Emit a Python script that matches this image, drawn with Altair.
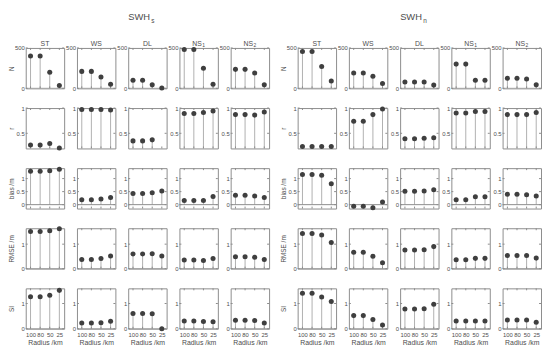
import altair as alt
import pandas as pd

radius = ["100", "80", "50", "25"]
methods = ["ST", "WS", "DL", "NS1", "NS2"]

# values per method, order: ST, WS, DL, NS1, NS2 ; radius order 100, 80, 50, 25
N_s = [[400, 400, 200, 35], [210, 210, 140, 50], [100, 100, 45, 5],
       [480, 480, 250, 50], [235, 235, 190, 45]]
N_n = [[455, 455, 270, 90], [190, 190, 150, 60], [80, 80, 80, 40],
       [300, 300, 100, 100], [125, 125, 115, 45]]

r_s = [[0.27, 0.27, 0.30, 0.21], [0.97, 0.97, 0.97, 0.96], [0.35, 0.35, 0.37, None],
       [0.89, 0.89, 0.91, 0.94], [0.87, 0.87, 0.86, 0.92]]
r_n = [[0.24, 0.24, 0.24, 0.24], [0.74, 0.74, 0.87, 0.98], [0.39, 0.39, 0.40, 0.41],
       [0.90, 0.90, 0.93, 0.93], [0.87, 0.87, 0.87, 0.91]]

bias_s = [[1.28, 1.28, 1.30, 1.36], [0.19, 0.19, 0.22, 0.27], [0.43, 0.43, 0.46, 0.52],
          [0.16, 0.16, 0.16, 0.31], [0.36, 0.36, 0.33, 0.27]]
bias_n = [[1.16, 1.16, 1.13, 0.80], [-0.06, -0.06, -0.12, 0.10], [0.51, 0.51, 0.52, 0.57],
          [0.19, 0.19, 0.30, 0.30], [0.40, 0.40, 0.38, 0.33]]

rmse_s = [[1.52, 1.52, 1.55, 1.63], [0.37, 0.37, 0.41, 0.52], [0.60, 0.60, 0.61, 0.52],
          [0.35, 0.35, 0.33, 0.41], [0.49, 0.49, 0.47, 0.37]]
rmse_n = [[1.44, 1.44, 1.37, 1.07], [0.67, 0.67, 0.51, 0.24], [0.76, 0.76, 0.77, 0.90],
          [0.36, 0.36, 0.42, 0.42], [0.54, 0.54, 0.54, 0.43]]

si_s = [[1.27, 1.27, 1.33, 1.52], [0.23, 0.23, 0.24, 0.30], [0.60, 0.60, 0.59, 0.0],
        [0.31, 0.31, 0.29, 0.28], [0.34, 0.34, 0.33, 0.23]]
si_n = [[1.41, 1.41, 1.26, 1.08], [0.52, 0.52, 0.37, 0.15], [0.78, 0.78, 0.79, 0.97],
        [0.31, 0.31, 0.31, 0.31], [0.35, 0.35, 0.35, 0.26]]

metrics = ["N", "r", "bias", "RMSE", "SI"]
metric_titles = ["N", "r", "bias /m", "RMSE /m", "SI"]
metric_ticks = [[0, 500], [0.5, 1], [0, 0.5, 1], [0, 1], [0, 1]]
metric_domains = [[0, 500], [0.2, 1], [-0.15, 1.4], [0, 1.65], [0, 1.6]]
title_x = [-14, -14, -14, -14, -14]
group_data = {"s": [N_s, r_s, bias_s, rmse_s, si_s], "n": [N_n, r_n, bias_n, rmse_n, si_n]}
groups = ["s", "n"]

W, H = 39, 41
FONT = "Liberation Sans"
TXT = "#4d4d4d"
BOX = "#8c8c8c"
STEM = "#b0b0b0"
PT = "#3f3f3f"

CW = {"N": .722, "S": .667, "T": .611, "W": .944, "D": .722, "L": .556, "H": .722,
      "1": .556, "2": .556, "s": .5, "n": .556}


def tw(s, size):
    return sum(CW.get(c, 0.6) for c in s) * size


def text_layer(txt, x, y, size, align="left"):
    return alt.Chart(pd.DataFrame({"t": [txt]})).mark_text(
        text=txt, align=align, baseline="alphabetic", fontSize=size, color=TXT, font=FONT
    ).encode(x=alt.value(x), y=alt.value(y))


def header_layers(name):
    main, sub = (name[:-1], name[-1]) if name[-1].isdigit() else (name, "")
    fs, ss = 7, 5
    if not sub:
        return [text_layer(main, W / 2, -2, fs, "center")]
    total = tw(main, fs) + 0.4 + tw(sub, ss)
    x0 = W / 2 - total / 2
    return [text_layer(main, x0, -2, fs), text_layer(sub, x0 + tw(main, fs) + 0.4, -0.9, ss)]


def panel(ri, gi, ci):
    g = groups[gi]
    vals = group_data[g][ri][ci]
    df = pd.DataFrame({"radius": radius, "value": vals}).dropna()
    last_row = ri == len(metrics) - 1
    if last_row:
        xaxis = alt.Axis(labelFontSize=6, labelColor=TXT, labelFont=FONT, labelPadding=2.5,
                         ticks=False, domain=False, grid=False, labelAngle=0, labelOverlap=False,
                         title="Radius /km", titleFontSize=7, titleFontWeight="normal",
                         titleColor=TXT, titleFont=FONT, titleY=14, titleBaseline="middle")
    else:
        xaxis = None
    x_enc = alt.X("radius:O", sort=radius, scale=alt.Scale(type="point", padding=0.5), axis=xaxis)
    yargs = dict(values=metric_ticks[ri], labelExpr="datum.value", ticks=False, domain=False,
                 grid=False, labelFontSize=6, labelPadding=1.5, labelColor=TXT, labelFont=FONT,
                 labelFlush=False, labelOverlap=False)
    if ci == 0:
        yargs.update(title=metric_titles[ri], titleX=title_x[ri], titleY=H / 2,
                     titleBaseline="middle", titleFontSize=6.5, titleFontWeight="normal",
                     titleColor=TXT, titleFont=FONT)
    else:
        yargs.update(title=None)
    y_enc = alt.Y("value:Q", scale=alt.Scale(domain=metric_domains[ri], nice=False, zero=False),
                  axis=alt.Axis(**yargs))

    base = alt.Chart(df)
    stems = base.mark_rule(color=STEM, strokeWidth=1, clip=True).encode(
        x=x_enc, y=y_enc, y2=alt.datum(0))
    baseline = alt.Chart(pd.DataFrame({"value": [0]})).mark_rule(
        color=BOX, strokeWidth=1, clip=True).encode(y=y_enc, x=alt.value(0), x2=alt.value(W))
    tick_df = pd.DataFrame({"value": metric_ticks[ri]})
    ytl = alt.Chart(tick_df).mark_rule(color=BOX, strokeWidth=1).encode(
        y=y_enc, x=alt.value(0), x2=alt.value(2))
    ytr = alt.Chart(tick_df).mark_rule(color=BOX, strokeWidth=1).encode(
        y=y_enc, x=alt.value(W - 2), x2=alt.value(W))
    rad_df = pd.DataFrame({"radius": radius})
    xtt = alt.Chart(rad_df).mark_rule(color=BOX, strokeWidth=1).encode(
        x=x_enc, y=alt.value(0), y2=alt.value(2))
    xtb = alt.Chart(rad_df).mark_rule(color=BOX, strokeWidth=1).encode(
        x=x_enc, y=alt.value(H - 2), y2=alt.value(H))
    pts = base.mark_circle(size=26, color=PT, opacity=1).encode(x=x_enc, y=y_enc)

    layers = [stems, baseline, ytl, ytr, xtt, xtb, pts]
    if ri == 0:
        layers += header_layers(methods[ci])
        if ci == 2:
            layers += [text_layer("SWH", 0, -28.6, 9.5), text_layer(g, tw("SWH", 9.5) + 1.2, -25.8, 6.5)]
    return alt.layer(*layers).properties(width=W, height=H)


def spacer():
    return alt.Chart(pd.DataFrame({"a": [0]})).mark_point(opacity=0).encode(
        x=alt.value(0), y=alt.value(0)).properties(
        width=3, height=H, view=alt.ViewBackground(stroke="transparent"))


cells = []
for ri in range(len(metrics)):
    for gi in range(2):
        for ci in range(len(methods)):
            cells.append(panel(ri, gi, ci))
        if gi == 0:
            cells.append(spacer())

chart = alt.concat(*cells, columns=11, spacing={"row": 20, "column": 13}, bounds="flush").properties(
    padding=0
).configure(font=FONT).configure_view(stroke=BOX, strokeWidth=1)

chart.save("out.html", embed_options={"renderer": "svg", "actions": False})
